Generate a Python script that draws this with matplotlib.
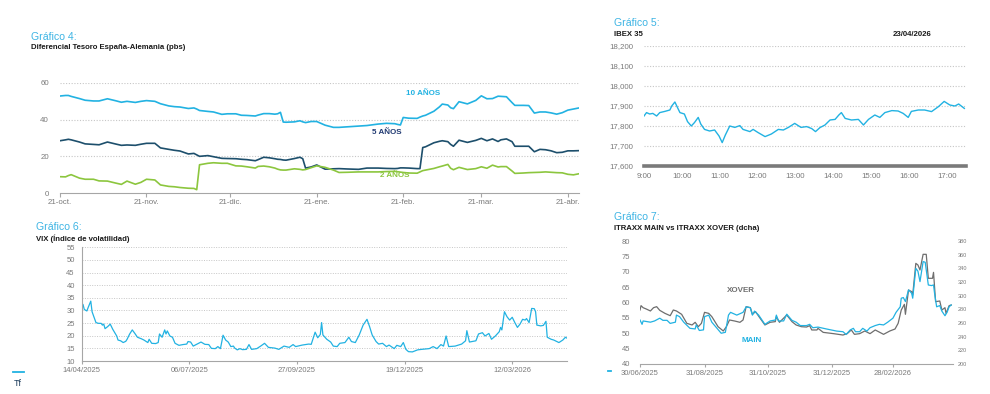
import matplotlib
matplotlib.use("Agg")
import matplotlib.pyplot as plt
import matplotlib.dates as mdates
import pandas as pd

plt.rcParams['font.family'] = ['Liberation Sans', 'DejaVu Sans']

# ---------------- data: Gráfico 4 (spreads, pbs) ----------------
spread_start = "2025-10-21"
spread_day = [0, 2, 3, 4, 7, 9, 12, 14, 17, 20, 22, 24, 27, 29, 31, 34, 36, 39, 41, 43,
              46, 48, 49, 50, 53, 55, 58, 60, 63, 65, 67, 70, 71, 73, 75, 77, 78, 79, 80, 81,
              84, 86, 87, 88, 90, 92, 95, 98, 100, 103, 107, 110, 114, 117, 120, 121, 122, 123, 125, 128,
              129, 130, 131, 134, 136, 137, 139, 140, 141, 143, 146, 149, 151, 153, 155, 157, 158, 160, 162, 163,
              166, 168, 170, 172, 174, 176, 178, 180, 182, 184, 186]
spread_10y = [52.9, 53.2, 53.2, 52.7, 51.5, 50.6, 50.2, 50.2, 51.4, 50.3,
              49.5, 50.0, 49.4, 50.0, 50.4, 50.0, 48.7, 47.5, 47.1, 46.9,
              46.1, 46.4, 45.8, 45.0, 44.5, 44.2, 42.9, 43.2, 43.2, 42.4,
              42.3, 42.0, 42.5, 43.3, 43.3, 43.0, 43.2, 44.0, 38.7, 38.6,
              38.8, 39.4, 38.8, 38.4, 39.0, 39.0, 37.0, 35.8, 35.8, 36.1,
              36.5, 36.8, 37.6, 38.0, 37.8, 37.4, 37.1, 41.2, 40.8, 40.7,
              41.4, 42.0, 42.4, 44.6, 47.0, 48.5, 48.0, 46.5, 46.0, 49.8,
              48.6, 50.5, 53.0, 51.4, 51.5, 52.8, 52.7, 52.5, 49.3, 47.8,
              47.8, 47.7, 43.6, 44.2, 44.2, 43.7, 43.0, 43.8, 45.2, 45.8,
              46.4]
spread_5y = [28.5, 29.0, 29.3, 29.0, 27.8, 26.8, 26.5, 26.3, 27.8, 26.7,
             26.0, 26.2, 26.0, 26.6, 27.1, 27.1, 24.6, 23.8, 23.3, 22.9,
             21.3, 21.6, 20.8, 20.0, 20.4, 19.8, 18.9, 18.8, 18.7, 18.4,
             18.2, 17.6, 18.2, 19.5, 19.2, 18.7, 18.4, 18.3, 18.0, 17.9,
             18.8, 19.5, 18.7, 13.6, 14.2, 15.3, 13.0, 13.2, 13.3, 13.1,
             12.9, 13.6, 13.6, 13.4, 13.3, 13.4, 13.7, 13.7, 13.6, 13.3,
             13.3, 24.8, 25.2, 27.4, 28.2, 28.5, 28.0, 26.5, 25.5, 28.8,
             27.6, 28.7, 29.8, 28.5, 29.5, 28.1, 29.0, 29.5, 28.0, 25.5,
             25.5, 25.5, 22.5, 23.8, 23.6, 23.0, 22.0, 22.2, 23.0, 23.0,
             23.1]
spread_2y = [8.9, 8.8, 9.5, 10.0, 8.1, 7.5, 7.5, 6.6, 6.5, 5.4,
             4.7, 6.5, 4.8, 5.8, 7.5, 7.1, 4.4, 3.6, 3.4, 3.0,
             2.6, 2.5, 1.8, 15.4, 16.2, 16.5, 16.2, 16.2, 14.8, 14.7,
             14.3, 13.6, 14.5, 14.7, 14.3, 13.6, 13.0, 12.6, 12.5, 12.5,
             13.2, 12.9, 12.6, 12.8, 13.8, 14.8, 14.0, 12.5, 11.2, 11.3,
             11.5, 11.5, 11.5, 11.7, 11.8, 11.6, 11.4, 11.2, 10.9, 10.8,
             11.5, 12.2, 12.5, 13.4, 14.3, 14.7, 15.6, 13.5, 12.7, 14.0,
             12.8, 13.3, 14.3, 13.5, 15.2, 14.2, 14.4, 14.4, 12.0, 10.7,
             10.9, 11.1, 11.2, 11.3, 11.5, 11.3, 11.1, 11.0, 10.2, 9.9,
             10.5]
spread_tick_dates = ["2025-10-21", "2025-11-21", "2025-12-21", "2026-01-21",
                     "2026-02-21", "2026-03-21", "2026-04-21"]
spread_tick_labels = ["21-oct.", "21-nov.", "21-dic.", "21-ene.", "21-feb.", "21-mar.", "21-abr."]
spread_label_10y = ("10 AÑOS", "2026-02-28", 54.0)
spread_label_5y = ("5 AÑOS", "2026-02-15", 32.9)
spread_label_2y = ("2 AÑOS", "2026-02-18", 9.3)

# ---------------- data: Gráfico 5 (IBEX 35 intradía) ----------------
ibex_date = "2026-04-23"
ibex_time = ["09:00", "09:04", "09:09", "09:14", "09:20", "09:25", "09:33", "09:41", "09:44", "09:49",
             "09:53", "09:57", "10:04", "10:09", "10:15", "10:20", "10:26", "10:30", "10:36", "10:44",
             "10:52", "10:59", "11:04", "11:09", "11:16", "11:24", "11:32", "11:37", "11:48", "11:53",
             "12:01", "12:12", "12:22", "12:33", "12:41", "12:49", "12:59", "13:09", "13:18", "13:26",
             "13:32", "13:39", "13:47", "13:55", "14:03", "14:09", "14:13", "14:19", "14:29", "14:40",
             "14:48", "14:56", "15:06", "15:14", "15:22", "15:33", "15:43", "15:51", "15:59", "16:04",
             "16:15", "16:25", "16:36", "16:47", "16:56", "17:05", "17:13", "17:19", "17:28"]
ibex_value = [17850, 17867, 17860, 17863, 17850, 17867, 17873, 17880, 17900, 17920,
              17893, 17867, 17860, 17822, 17800, 17817, 17843, 17810, 17783, 17775,
              17780, 17750, 17717, 17755, 17800, 17793, 17802, 17783, 17772, 17783,
              17767, 17747, 17760, 17783, 17780, 17793, 17813, 17793, 17797, 17787,
              17772, 17792, 17805, 17830, 17833, 17855, 17867, 17838, 17830, 17833,
              17805, 17833, 17855, 17843, 17867, 17877, 17875, 17863, 17843, 17873,
              17880, 17880, 17872, 17897, 17923, 17905, 17900, 17910, 17888]
ibex_ticks = ["09:00", "10:00", "11:00", "12:00", "13:00", "14:00", "15:00", "16:00", "17:00"]

# ---------------- data: Gráfico 6 (VIX) ----------------
vix_start = "2025-04-14"
vix_day = [0, 1, 2, 4, 5, 7, 8, 11, 13, 15, 16, 17, 18, 20, 22, 24, 27, 28, 30, 32,
           34, 35, 37, 39, 41, 43, 46, 48, 51, 52, 54, 57, 59, 60, 62, 64, 65, 66, 68, 70,
           72, 75, 78, 81, 82, 84, 86, 89, 92, 95, 98, 100, 103, 105, 107, 109, 111, 113, 115, 117,
           118, 120, 122, 124, 127, 129, 131, 135, 138, 141, 144, 149, 152, 156, 160, 163, 165, 170, 175, 177,
           180, 182, 184, 185, 186, 189, 192, 194, 197, 199, 203, 206, 208, 211, 214, 217, 220, 222, 224, 227,
           229, 232, 235, 237, 241, 243, 246, 248, 250, 252, 255, 259, 262, 268, 271, 274, 277, 279, 281, 283,
           288, 293, 296, 297, 299, 304, 306, 309, 311, 314, 316, 319, 322, 323, 324, 326, 328, 330, 332, 334,
           336, 338, 340, 342, 343, 345, 347, 349, 350, 351, 354, 356, 358, 359, 362, 364, 368, 371, 373, 374]
vix_value = [30.2, 32.4, 30.4, 29.8, 31.2, 33.7, 29.5, 25.2, 24.9, 24.9, 24.2, 24.6, 22.8, 23.6, 24.6, 22.5, 19.9, 18.3, 18.0, 17.3,
             17.8, 18.6, 20.7, 22.3, 20.9, 19.4, 18.8, 18.3, 17.3, 18.6, 17.0, 16.9, 17.3, 20.7, 19.4, 22.3, 20.7, 21.9, 19.9, 19.4,
             17.0, 16.2, 16.5, 16.7, 17.7, 17.5, 15.9, 16.7, 17.5, 16.6, 16.5, 15.0, 14.9, 15.7, 14.9, 20.2, 18.3, 17.5, 15.7, 15.9,
             15.1, 14.4, 14.9, 14.5, 14.6, 16.5, 14.6, 14.9, 15.9, 17.0, 15.4, 15.1, 14.6, 15.9, 15.4, 16.5, 15.7, 16.3, 16.7, 16.6,
             21.4, 19.2, 20.5, 25.2, 20.3, 18.6, 17.5, 15.9, 15.7, 17.0, 17.3, 19.4, 17.7, 17.3, 20.3, 24.2, 26.5, 23.6, 20.3, 17.7,
             16.7, 17.0, 15.7, 16.3, 14.9, 16.2, 15.7, 17.3, 14.6, 13.7, 13.6, 14.4, 14.6, 14.9, 15.7, 14.9, 16.5, 15.9, 19.9, 15.7,
             15.9, 16.7, 18.0, 22.0, 17.5, 18.0, 20.7, 21.2, 19.9, 20.9, 18.6, 19.9, 21.6, 23.3, 22.3, 29.5, 27.5, 26.2, 27.3, 25.2,
             23.3, 24.6, 26.5, 26.2, 26.8, 25.2, 30.8, 30.7, 29.5, 24.2, 23.9, 24.1, 25.7, 19.4, 18.6, 18.3, 17.3, 18.3, 19.4, 19.1]
vix_tick_dates = ["2025-04-14", "2025-07-06", "2025-09-27", "2025-12-19", "2026-03-12"]

# ---------------- data: Gráfico 7 (iTraxx) ----------------
itraxx_start = "2025-06-30"
main_day = [0, 2, 3, 10, 14, 19, 22, 26, 29, 34, 35, 38, 42, 48, 53, 54, 57, 61, 62, 66,
            69, 74, 78, 82, 85, 87, 93, 99, 102, 106, 108, 110, 114, 120, 125, 130, 131, 133, 138, 141,
            146, 150, 154, 160, 163, 166, 171, 179, 189, 195, 198, 202, 205, 207, 211, 214, 218, 221, 226, 230,
            234, 238, 243, 246, 250, 251, 253, 255, 258, 261, 262, 265, 267, 269, 272, 274, 277, 280, 282, 283,
            285, 288, 290, 293, 295, 297, 299]
main_value = [54.3, 52.9, 54.0, 53.6, 54.0, 54.9, 54.2, 54.2, 53.2, 53.6, 55.9, 55.4, 53.6, 51.6, 51.4, 52.7, 50.9, 51.1, 55.4, 55.9,
              53.6, 51.6, 50.0, 50.3, 55.9, 56.8, 55.9, 56.8, 58.6, 58.3, 55.9, 57.2, 55.9, 52.9, 54.0, 54.3, 55.9, 54.0, 54.0, 56.2,
              54.2, 53.6, 52.5, 52.5, 52.9, 51.8, 52.0, 51.4, 50.7, 50.5, 49.6, 51.1, 51.6, 50.5, 50.5, 51.6, 50.7, 51.8, 52.5, 52.9,
              52.7, 53.6, 54.9, 56.8, 58.6, 61.4, 61.6, 60.3, 64.1, 63.0, 61.4, 71.1, 70.2, 66.8, 73.3, 73.1, 65.7, 65.5, 65.7, 63.0,
              58.6, 59.0, 57.2, 55.7, 56.8, 58.6, 59.2]
xover_day = [0, 1, 3, 6, 10, 13, 16, 19, 24, 29, 32, 35, 40, 45, 50, 53, 56, 59, 62, 66,
             69, 75, 80, 83, 86, 91, 96, 99, 102, 106, 108, 111, 115, 120, 125, 130, 131, 134, 141, 146,
             150, 155, 160, 163, 165, 170, 171, 176, 186, 195, 199, 203, 206, 211, 216, 221, 226, 234, 240, 245,
             248, 251, 254, 255, 258, 261, 262, 265, 267, 269, 272, 275, 277, 281, 282, 284, 288, 290, 293, 294,
             297, 299]
xover_value = [279.0, 285.4, 282.4, 280.5, 277.6, 282.4, 283.9, 278.5, 274.1, 270.7, 279.0, 277.6, 272.7, 259.5, 257.1, 261.0, 254.6, 259.5, 275.6, 274.1,
               269.3, 254.6, 248.3, 254.6, 264.4, 262.9, 261.0, 264.4, 283.9, 282.4, 272.7, 276.6, 267.8, 257.1, 261.0, 262.0, 269.3, 261.0, 271.7, 262.0,
               257.1, 254.6, 254.1, 256.1, 249.8, 249.8, 252.2, 246.3, 244.4, 242.4, 244.4, 249.8, 243.4, 244.4, 248.3, 244.4, 249.8, 243.4, 248.3, 251.2,
               259.5, 279.0, 287.3, 272.7, 308.3, 305.9, 301.0, 347.3, 344.9, 337.6, 360.5, 360.5, 325.4, 325.4, 334.1, 291.2, 292.2, 279.0, 282.4, 274.1,
               285.4, 286.3]
itraxx_tick_dates = ["2025-06-30", "2025-08-31", "2025-10-31", "2025-12-31", "2026-02-28"]
itraxx_end_day = 301

# ---------------- styles ----------------
CYAN = '#22b2e2'
TEAL = '#1d4f6c'
GREEN = '#8cc63e'
NAVY = '#213a72'
GREYLINE = '#6e6e6e'
TICK = '#7a7a7a'
GRID = '#c6c6c6'
TITLE = '#3db4e4'
SUB = '#1a1a1a'

W, H = 990, 394
fig = plt.figure(figsize=(W / 100, H / 100), dpi=100)


def box(l, t, r, b):
    return [l / W, 1 - b / H, (r - l) / W, (b - t) / H]


def ftext(x, y, s, **kw):
    fig.text(x / W, 1 - y / H, s, **kw)


def days(start, offs):
    return pd.Timestamp(start) + pd.to_timedelta(offs, unit='D')


def clean(ax):
    for s in ax.spines.values():
        s.set_visible(False)
    ax.set_facecolor('none')


# ---------- Gráfico 4 ----------
ax4 = fig.add_axes(box(60, 83, 579, 193))
clean(ax4)
d4 = days(spread_start, spread_day)
ax4.plot(d4, spread_10y, color=CYAN, lw=1.2)
ax4.plot(d4, spread_5y, color=TEAL, lw=1.2)
ax4.plot(d4, spread_2y, color=GREEN, lw=1.2)
ax4.set_ylim(0, 60)
ax4.set_xlim(d4[0], d4[-1])
ax4.set_yticks([0, 20, 40, 60])
for v in [20, 40, 60]:
    ax4.axhline(v, color=GRID, lw=0.8, ls=(0, (1, 1.5)), zorder=0)
ax4.spines['bottom'].set_visible(True)
ax4.spines['bottom'].set_color('#a6a6a6')
ax4.set_xticks(pd.to_datetime(spread_tick_dates))
ax4.set_xticklabels(spread_tick_labels)
ax4.tick_params(axis='x', length=3, color='#a6a6a6', labelsize=5.7, labelcolor=TICK, pad=1.5)
ax4.tick_params(axis='y', length=0, labelsize=5.7, labelcolor=TICK, pad=8)
for (txt, dt, v), col in zip([spread_label_10y, spread_label_5y, spread_label_2y], [CYAN, NAVY, GREEN]):
    ax4.text(pd.Timestamp(dt), v, txt, color=col, fontsize=5.8, fontweight='bold',
             ha='center', va='center')
ftext(31, 37, "Gráfico 4:", color=TITLE, fontsize=7.6, va='center')
ftext(31, 47.5, "Diferencial Tesoro España-Alemania (pbs)", color=SUB, fontsize=5.6,
      fontweight='bold', va='center')

# ---------- Gráfico 5 ----------
ax5 = fig.add_axes(box(644, 46, 965.6, 166))
clean(ax5)
t5 = pd.to_datetime([ibex_date + " " + t for t in ibex_time])
ax5.plot(t5, ibex_value, color=CYAN, lw=1.0)
ax5.set_ylim(17600, 18200)
ax5.set_xlim(pd.Timestamp(ibex_date + " 09:00"), pd.Timestamp(ibex_date + " 17:30"))
ax5.set_yticks(range(17600, 18201, 100))
ax5.yaxis.set_major_formatter(matplotlib.ticker.FuncFormatter(lambda v, p: f"{int(v):,}"))
for v in range(17700, 18201, 100):
    ax5.axhline(v, color=GRID, lw=0.8, ls=(0, (1, 1.5)), zorder=0)
ax5.spines['bottom'].set_visible(True)
ax5.spines['bottom'].set_color('#7a7a7a')
ax5.spines['bottom'].set_linewidth(2.6)
ax5.set_xticks(pd.to_datetime([ibex_date + " " + t for t in ibex_ticks]))
ax5.set_xticklabels([t.lstrip('0') for t in ibex_ticks])
ax5.tick_params(axis='x', length=0, labelsize=5.7, labelcolor=TICK, pad=5)
ax5.tick_params(axis='y', length=0, labelsize=5.7, labelcolor=TICK, pad=8)
ftext(614, 23, "Gráfico 5:", color=TITLE, fontsize=7.6, va='center')
ftext(614, 34, "IBEX 35", color=SUB, fontsize=5.6, fontweight='bold', va='center')
ftext(912, 34, "23/04/2026", color=SUB, fontsize=5.6, fontweight='bold', va='center', ha='center')

# ---------- Gráfico 6 ----------
ax6 = fig.add_axes(box(81.7, 247.3, 566.7, 361))
clean(ax6)
d6 = days(vix_start, vix_day)
ax6.plot(d6, vix_value, color=CYAN, lw=0.9)
ax6.set_ylim(10, 55)
ax6.set_xlim(pd.Timestamp(vix_start), d6[-1])
ax6.set_yticks(range(10, 56, 5))
for v in range(15, 56, 5):
    ax6.axhline(v, color=GRID, lw=0.7, ls=(0, (1, 1.5)), zorder=0)
for s in ['left', 'bottom']:
    ax6.spines[s].set_visible(True)
    ax6.spines[s].set_color('#a6a6a6')
ax6.set_xticks(pd.to_datetime(vix_tick_dates))
ax6.xaxis.set_major_formatter(mdates.DateFormatter('%d/%m/%Y'))
ax6.tick_params(axis='x', length=2, color='#a6a6a6', labelsize=5.5, labelcolor=TICK, pad=2)
ax6.tick_params(axis='y', length=0, labelsize=5.5, labelcolor=TICK, pad=5)
ftext(36, 226.5, "Gráfico 6:", color=TITLE, fontsize=7.6, va='center')
ftext(36, 238.5, "VIX (Índice de volatilidad)", color=SUB, fontsize=5.6, fontweight='bold', va='center')

# ---------- Gráfico 7 ----------
ax7 = fig.add_axes(box(640, 241, 953.3, 364))
clean(ax7)
ax7r = ax7.twinx()
clean(ax7r)
d7m = days(itraxx_start, main_day)
d7x = days(itraxx_start, xover_day)
ax7r.plot(d7x, xover_value, color=GREYLINE, lw=0.9)
ax7.plot(d7m, main_value, color=CYAN, lw=0.9)
ax7.set_zorder(ax7r.get_zorder() + 1)
ax7.set_ylim(40, 80)
ax7r.set_ylim(200, 380)
ax7.set_xlim(pd.Timestamp(itraxx_start), pd.Timestamp(itraxx_start) + pd.Timedelta(days=itraxx_end_day))
ax7.set_yticks(range(40, 81, 5))
ax7r.set_yticks(range(200, 381, 20))
ax7.spines['bottom'].set_visible(True)
ax7.spines['bottom'].set_color('#a6a6a6')
ax7.set_xticks(pd.to_datetime(itraxx_tick_dates))
ax7.xaxis.set_major_formatter(mdates.DateFormatter('%d/%m/%Y'))
ax7.tick_params(axis='x', length=2, color='#a6a6a6', labelsize=5.5, labelcolor=TICK, pad=2)
ax7.tick_params(axis='y', length=0, labelsize=5.5, labelcolor=TICK, pad=7)
ax7r.tick_params(axis='y', length=0, labelsize=4.0, labelcolor=TICK, pad=3)
ax7.text(pd.Timestamp("2025-10-05"), 63.8, "XOVER", color='#6f6f6f', fontsize=5.8,
         fontweight='bold', ha='center', va='center')
ax7.text(pd.Timestamp("2025-10-15"), 47.5, "MAIN", color=CYAN, fontsize=5.8,
         fontweight='bold', ha='center', va='center')
ftext(614, 217.5, "Gráfico 7:", color=TITLE, fontsize=7.6, va='center')
ftext(614, 228.5, "ITRAXX MAIN vs ITRAXX XOVER (dcha)", color=SUB, fontsize=5.6,
      fontweight='bold', va='center')

# page footer marks
fig.add_artist(plt.Line2D([13 / W, 24 / W], [1 - 372 / H] * 2, color=CYAN, lw=1.3))
ftext(14, 384, "Tf", color='#1a3a5a', fontsize=6.5, va='center')
fig.add_artist(plt.Line2D([608 / W, 611 / W], [1 - 371 / H] * 2, color=CYAN, lw=1.3))

fig.savefig("out.png", dpi=100, facecolor='white')
